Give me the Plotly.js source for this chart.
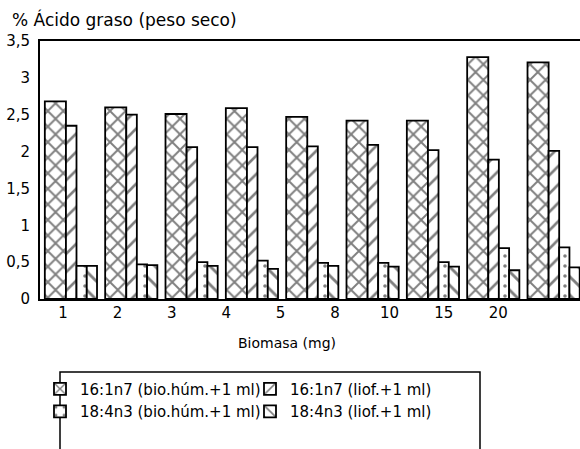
<!DOCTYPE html>
<html>
<head>
<meta charset="utf-8">
<script src="https://cdn.plot.ly/plotly-3.0.1.min.js"></script>
<style>html,body{margin:0;padding:0;background:#fff;}#chart{width:580px;height:449px;}</style>
</head>
<body>
<div id="chart"></div>
<script>
const categories = ["1", "2", "3", "4", "5", "8", "10", "15", "20"];
const seriesNames = [
  "16:1n7 (bio.húm.+1 ml)",
  "16:1n7 (liof.+1 ml)",
  "18:4n3 (bio.húm.+1 ml)",
  "18:4n3 (liof.+1 ml)"
];
const c16BioHum = [2.68, 2.60, 2.51, 2.59, 2.47, 2.42, 2.42, 3.28, 3.21];
const c16Liof   = [2.35, 2.50, 2.06, 2.06, 2.07, 2.09, 2.02, 1.89, 2.01];
const c18BioHum = [0.45, 0.47, 0.50, 0.52, 0.49, 0.49, 0.50, 0.69, 0.70];
const c18Liof   = [0.45, 0.46, 0.45, 0.41, 0.45, 0.44, 0.44, 0.39, 0.43];
const yTitle = "% Ácido graso (peso seco)";
const xTitle = "Biomasa (mg)";

const values = [c16BioHum, c16Liof, c18BioHum, c18Liof];
const shapes = ["x", "/", ".", "\\"];
const sizes = [11, 13, 10, 13];
const solid = [0.32, 0.2, 0.1, 0.22];
const offsets = [-0.42, -0.07, 0.105, 0.275];
const widths = [0.35, 0.175, 0.17, 0.17];
const idx = categories.map((c, i) => i);

const traces = values.map((v, k) => ({
  type: "bar",
  name: seriesNames[k],
  x: idx,
  y: v,
  offset: offsets[k],
  width: widths[k],
  marker: {
    color: "#ffffff",
    line: {color: "#000", width: 1.8},
    pattern: {shape: shapes[k], fgcolor: "#000", bgcolor: "#fff", size: sizes[k], solidity: solid[k], fillmode: "overlay"}
  },
  hoverinfo: "skip"
}));

const fam = "DejaVu Sans, Liberation Sans, Arial, sans-serif";
const tickFont = {family: fam, size: 15, color: "#000"};
const legFont = {family: fam, size: 15, color: "#000"};

const layout = {
  width: 580, height: 449,
  margin: {l: 40, r: 0, t: 41, b: 150, autoexpand: false},
  paper_bgcolor: "#fff", plot_bgcolor: "#fff",
  font: tickFont,
  separators: ",.",
  barmode: "overlay",
  showlegend: true,
  title: {text: yTitle, font: {family: fam, size: 17, color: "#000"},
          xref: "container", yref: "container", x: 12/580, xanchor: "left", y: 1 - 20/449, yanchor: "middle"},
  xaxis: {
    range: [-0.5, 8.45], showticklabels: false, ticks: "", showgrid: false, zeroline: false,
    showline: true, linecolor: "#000", linewidth: 2, mirror: true, fixedrange: true
  },
  xaxis2: {
    overlaying: "x", anchor: "y", side: "bottom",
    range: [-0.423, 9.503], tickmode: "array", tickvals: idx, ticktext: categories,
    ticks: "", showgrid: false, zeroline: false, showline: false, tickfont: tickFont, ticklabelstandoff: 3
  },
  yaxis: {
    range: [0, 3.5], dtick: 0.5, tick0: 0, ticks: "", showgrid: false, zeroline: false,
    showline: true, linecolor: "#000", linewidth: 2, tickfont: tickFont, ticklabelstandoff: 5, fixedrange: true
  },
  legend: {
    orientation: "h", x: 0.0, xanchor: "left", y: -0.285, yanchor: "top",
    entrywidth: 165, font: legFont, borderwidth: 0, bgcolor: "rgba(0,0,0,0)", traceorder: "normal"
  },
  annotations: [
    {text: xTitle, xref: "paper", yref: "paper", x: (287 - 40) / 540, y: 1 - (343 - 41) / 258,
     xanchor: "center", yanchor: "middle", showarrow: false, font: {family: fam, size: 14, color: "#000"}}
  ],
  shapes: [
    {type: "rect", xref: "paper", yref: "paper", x0: (60 - 40) / 540, x1: (480 - 40) / 540,
     y0: 1 - (372 - 41) / 258, y1: -0.75, line: {color: "#000", width: 1.5}, fillcolor: "rgba(0,0,0,0)"}
  ]
};

traces.push({type: "scatter", x: [], y: [], xaxis: "x2", yaxis: "y", showlegend: false, hoverinfo: "skip"});

Plotly.newPlot("chart", traces, layout, {staticPlot: true, displayModeBar: false});
</script>
</body>
</html>
